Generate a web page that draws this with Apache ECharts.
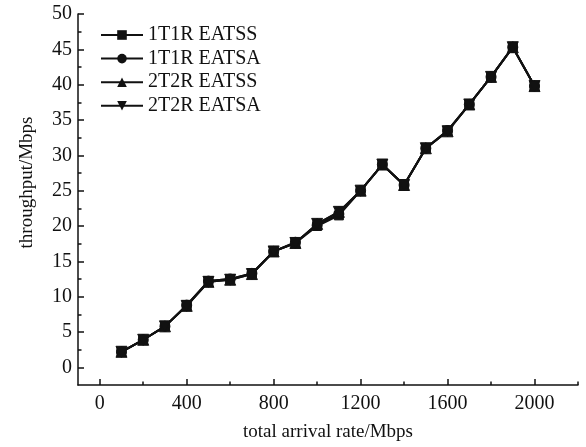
<!DOCTYPE html>
<html>
<head>
<meta charset="utf-8">
<script src="https://cdn.jsdelivr.net/npm/echarts@6/dist/echarts.min.js"></script>
<style>html,body{margin:0;padding:0;background:#fff}#c{width:586px;height:447px}</style>
</head>
<body>
<div id="c"></div>
<script>
const xValues = [100,200,300,400,500,600,700,800,900,1000,1100,1200,1300,1400,1500,1600,1700,1800,1900,2000];
const s1T1R_EATSS = [2.2,3.9,5.8,8.8,12.2,12.5,13.3,16.4,17.6,20.0,21.5,25.0,28.7,25.8,31.0,33.5,37.2,41.1,45.3,39.8];
const s1T1R_EATSA = [2.2,3.9,5.8,8.8,12.2,12.5,13.3,16.4,17.7,20.1,21.7,25.0,28.7,25.8,31.0,33.5,37.2,41.1,45.3,39.8];
const s2T2R_EATSS = [2.2,3.9,5.8,8.7,12.1,12.4,13.2,16.4,17.6,20.3,22.0,25.0,28.7,25.8,31.0,33.4,37.2,41.1,45.3,39.8];
const s2T2R_EATSA = [2.2,3.9,5.8,8.7,12.1,12.4,13.2,16.4,17.6,20.3,22.0,25.0,28.7,25.8,31.0,33.4,37.2,41.1,45.3,39.8];
const seriesNames = ['1T1R EATSS','1T1R EATSA','2T2R EATSS','2T2R EATSA'];
const xMajorTicks = [0,400,800,1200,1600,2000];
const xMinorTicks = [200,600,1000,1400,1800,2200];
const yMajorTicks = [0,5,10,15,20,25,30,35,40,45,50];
const yMinorTicks = [2.5,7.5,12.5,17.5,22.5,27.5,32.5,37.5,42.5,47.5];

const FONT = 'Liberation Serif';
const INK = '#111';
const downTri = 'path://M0,0 L10,0 L5,9 Z';
const symbols = ['rect','circle','triangle',downTri];
const sizes = [9,10,11,11];
const allData = [s1T1R_EATSS,s1T1R_EATSA,s2T2R_EATSS,s2T2R_EATSA];

const chart = echarts.init(document.getElementById('c'), null, {renderer:'canvas'});
const axisLineStyle = {color: INK, width: 1.5};
const plain = v => String(v);
chart.setOption({
  animation: false,
  backgroundColor: '#fff',
  grid: {left: 78, top: 14, right: 8, bottom: 60, containLabel: false},
  legend: {
    orient: 'vertical', left: 100, top: 25, padding: 0,
    itemWidth: 42, itemHeight: 12, itemGap: 3.6,
    textStyle: {fontFamily: FONT, fontSize: 20, color: INK},
    data: seriesNames
  },
  xAxis: [{
    type: 'value', min: -100, max: 2200,
    name: 'total arrival rate/Mbps', nameLocation: 'middle', nameGap: 38,
    nameTextStyle: {fontFamily: FONT, fontSize: 19, color: INK},
    axisLine: {show: true, onZero: false, lineStyle: axisLineStyle},
    axisTick: {show: true, inside: true, length: 6, lineStyle: axisLineStyle, customValues: xMajorTicks},
    axisLabel: {fontFamily: FONT, fontSize: 20, color: INK, margin: 9, customValues: xMajorTicks, formatter: plain},
    splitLine: {show: false}
  },{
    type: 'value', min: -100, max: 2200, position: 'bottom',
    axisLine: {show: false, onZero: false},
    axisTick: {show: true, inside: true, length: 3.5, lineStyle: axisLineStyle, customValues: xMinorTicks},
    axisLabel: {show: false},
    splitLine: {show: false}
  }],
  yAxis: [{
    type: 'value', min: -2.5, max: 50,
    name: 'throughput/Mbps', nameLocation: 'middle', nameGap: 41, nameRotate: 90,
    nameTextStyle: {fontFamily: FONT, fontSize: 19, color: INK, padding: [0,0,0,34]},
    axisLine: {show: true, onZero: false, lineStyle: axisLineStyle},
    axisTick: {show: true, inside: true, length: 6, lineStyle: axisLineStyle, customValues: yMajorTicks},
    axisLabel: {fontFamily: FONT, fontSize: 20, color: INK, margin: 6, customValues: yMajorTicks, formatter: plain},
    splitLine: {show: false}
  },{
    type: 'value', min: -2.5, max: 50, position: 'left',
    axisLine: {show: false, onZero: false},
    axisTick: {show: true, inside: true, length: 3.5, lineStyle: axisLineStyle, customValues: yMinorTicks},
    axisLabel: {show: false},
    splitLine: {show: false}
  }],
  series: seriesNames.map((n,i)=>({
    name: n, type: 'line',
    xAxisIndex: 0, yAxisIndex: 0,
    data: xValues.map((x,j)=>[x, allData[i][j]]),
    symbol: symbols[i], symbolSize: sizes[i], showAllSymbol: true,
    lineStyle: {color: INK, width: 2},
    itemStyle: {color: INK, borderColor: INK, opacity: 1},
    emphasis: {disabled: true}
  }))
});
</script>
</body>
</html>
